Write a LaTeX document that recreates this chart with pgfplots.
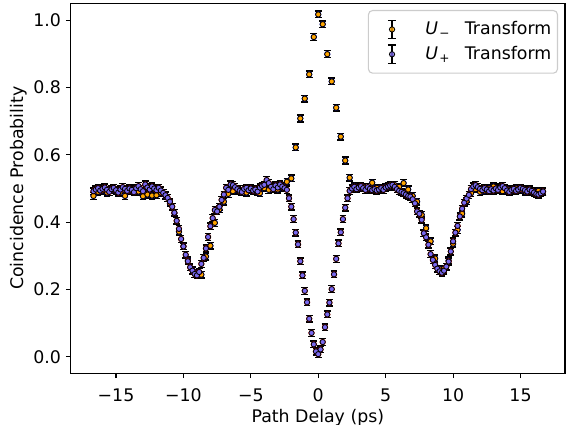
\documentclass[border=0pt]{standalone}
\usepackage{pgfplots}
\usepackage{pgfplotstable}
\pgfplotsset{compat=1.18}
\usepackage{fontspec}
\setmainfont{DejaVu Sans}
\setsansfont{DejaVu Sans}
\definecolor{uminus}{RGB}{255,165,0}
\definecolor{uplus}{RGB}{123,104,238}
\definecolor{legframe}{RGB}{204,204,204}

% U- transform (orange)
\pgfplotstableread{
x y
-16.67 0.478
-16.33 0.490
-16.00 0.494
-15.67 0.488
-15.33 0.496
-15.00 0.492
-14.67 0.490
-14.33 0.478
-14.00 0.494
-13.67 0.497
-13.33 0.491
-13.00 0.477
-12.67 0.482
-12.33 0.479
-12.00 0.480
-11.67 0.487
-11.33 0.478
-11.00 0.456
-10.67 0.427
-10.33 0.372
-10.00 0.328
-9.67 0.287
-9.33 0.258
-9.00 0.248
-8.67 0.244
-8.33 0.298
-8.00 0.330
-7.67 0.398
-7.33 0.438
-7.00 0.461
-6.67 0.484
-6.33 0.492
-6.00 0.497
-5.67 0.490
-5.33 0.488
-5.00 0.495
-4.67 0.493
-4.33 0.486
-4.00 0.501
-3.67 0.496
-3.33 0.499
-3.00 0.497
-2.67 0.505
-2.33 0.520
-2.00 0.530
-1.67 0.622
-1.33 0.708
-1.00 0.767
-0.67 0.839
-0.33 0.950
0.00 1.017
0.33 0.988
0.67 0.899
1.00 0.818
1.33 0.740
1.67 0.654
2.00 0.583
2.33 0.532
2.67 0.508
3.00 0.502
3.33 0.505
3.67 0.498
4.00 0.517
4.33 0.502
4.67 0.499
5.00 0.504
5.33 0.506
5.67 0.510
6.00 0.505
6.33 0.516
6.67 0.497
7.00 0.478
7.33 0.461
7.67 0.422
8.00 0.382
8.33 0.343
8.67 0.292
9.00 0.260
9.33 0.262
9.67 0.286
10.00 0.336
10.33 0.377
10.67 0.425
11.00 0.462
11.33 0.486
11.67 0.498
12.00 0.490
12.33 0.494
12.67 0.500
13.00 0.506
13.33 0.497
13.67 0.492
14.00 0.498
14.33 0.494
14.67 0.500
15.00 0.496
15.33 0.491
15.67 0.495
16.00 0.489
16.33 0.493
16.67 0.490
}\uminusdata

% U+ transform (purple)
\pgfplotstableread{
x y
-16.67 0.492
-16.50 0.497
-16.33 0.501
-16.17 0.494
-16.00 0.499
-15.83 0.503
-15.67 0.496
-15.50 0.490
-15.33 0.498
-15.17 0.502
-15.00 0.495
-14.83 0.488
-14.67 0.497
-14.50 0.504
-14.33 0.499
-14.17 0.493
-14.00 0.500
-13.83 0.496
-13.67 0.489
-13.50 0.501
-13.33 0.507
-13.17 0.498
-13.00 0.492
-12.83 0.512
-12.67 0.503
-12.50 0.497
-12.33 0.506
-12.17 0.500
-12.00 0.495
-11.83 0.502
-11.67 0.494
-11.50 0.487
-11.33 0.480
-11.17 0.472
-11.00 0.461
-10.83 0.446
-10.67 0.428
-10.50 0.404
-10.33 0.380
-10.17 0.350
-10.00 0.328
-9.83 0.303
-9.67 0.284
-9.50 0.266
-9.33 0.256
-9.17 0.246
-9.00 0.242
-8.83 0.252
-8.67 0.276
-8.50 0.294
-8.33 0.322
-8.17 0.356
-8.00 0.388
-7.83 0.412
-7.67 0.436
-7.50 0.432
-7.33 0.446
-7.17 0.466
-7.00 0.482
-6.83 0.502
-6.67 0.496
-6.50 0.512
-6.33 0.510
-6.17 0.504
-6.00 0.498
-5.83 0.493
-5.67 0.490
-5.50 0.499
-5.33 0.502
-5.17 0.495
-5.00 0.500
-4.83 0.494
-4.67 0.497
-4.50 0.491
-4.33 0.503
-4.17 0.508
-4.00 0.511
-3.83 0.525
-3.67 0.516
-3.50 0.505
-3.33 0.498
-3.17 0.509
-3.00 0.503
-2.83 0.512
-2.67 0.506
-2.50 0.501
-2.33 0.496
-2.17 0.471
-2.00 0.446
-1.83 0.409
-1.67 0.369
-1.50 0.334
-1.33 0.284
-1.17 0.242
-1.00 0.196
-0.83 0.162
-0.67 0.113
-0.50 0.071
-0.33 0.037
-0.17 0.016
0.00 0.008
0.17 0.022
0.33 0.044
0.50 0.088
0.67 0.126
0.83 0.161
1.00 0.201
1.17 0.245
1.33 0.291
1.50 0.337
1.67 0.370
1.83 0.409
2.00 0.443
2.17 0.471
2.33 0.493
2.50 0.500
2.67 0.505
2.83 0.498
3.00 0.503
3.17 0.507
3.33 0.501
3.50 0.496
3.67 0.504
3.83 0.499
4.00 0.495
4.17 0.498
4.33 0.494
4.50 0.497
4.67 0.501
4.83 0.496
5.00 0.503
5.17 0.506
5.33 0.509
5.50 0.511
5.67 0.505
5.83 0.498
6.00 0.493
6.17 0.490
6.33 0.486
6.50 0.482
6.67 0.478
6.83 0.476
7.00 0.468
7.17 0.456
7.33 0.432
7.50 0.425
7.67 0.407
7.83 0.367
8.00 0.355
8.17 0.333
8.33 0.305
8.50 0.288
8.67 0.273
8.83 0.262
9.00 0.254
9.17 0.250
9.33 0.256
9.50 0.268
9.67 0.283
9.83 0.313
10.00 0.343
10.17 0.369
10.33 0.389
10.50 0.417
10.67 0.440
10.83 0.458
11.00 0.470
11.17 0.481
11.33 0.498
11.50 0.506
11.67 0.510
11.83 0.504
12.00 0.499
12.17 0.495
12.33 0.501
12.50 0.497
12.67 0.492
12.83 0.498
13.00 0.494
13.17 0.500
13.33 0.496
13.50 0.503
13.67 0.507
13.83 0.501
14.00 0.494
14.17 0.490
14.33 0.496
14.50 0.499
14.67 0.493
14.83 0.497
15.00 0.502
15.17 0.499
15.33 0.495
15.50 0.491
15.67 0.497
15.83 0.493
16.00 0.488
16.17 0.484
16.33 0.482
16.50 0.486
16.67 0.491
}\uplusdata

\pgfplotsset{
  ebleg/.style={legend image code/.code={
    \path[draw=none, fill=none] (-3bp,0) -- (28bp,0);
    \draw[black, line width=1pt] (11bp,-6.6bp) -- (11bp,6.6bp);
    \draw[black, line width=1pt] (11bp-3bp,-6.6bp) -- (11bp+3bp,-6.6bp);
    \draw[black, line width=1pt] (11bp-3bp,6.6bp) -- (11bp+3bp,6.6bp);
    \draw[black, line width=0.6pt, fill=#1] (11bp,0) circle (1.9bp);
  }},
  % error bars only, drawn beneath the markers
  ebonly/.style={
    only marks, mark=none, forget plot,
    error bars/y dir=both, error bars/y fixed=0.01,
    error bars/error bar style={black, line width=1pt},
    error bars/error mark options={rotate=90, black, mark size=2.4bp, line width=1pt},
  },
  mkonly/.style={
    only marks, mark=*, mark size=1.9bp,
    mark options={fill=#1, draw=black, line width=0.6pt},
  },
}

\begin{document}
\begin{tikzpicture}
\begin{axis}[
  name=ax,
  scale only axis,
  width=355.9bp, height=266.4bp,
  xmin=-18.36, xmax=18.3, ymin=-0.049, ymax=1.05,
  font=\fontsize{12.5bp}{15bp}\selectfont,
  xtick={-15,-10,-5,0,5,10,15},
  xticklabels={−15,−10,−5,0,5,10,15},
  ytick={0,0.2,0.4,0.6,0.8,1.0},
  yticklabels={0.0,0.2,0.4,0.6,0.8,1.0},
  tick align=outside, xtick pos=left, ytick pos=left,
  major tick length=3.5bp,
  tick style={black, line width=0.8pt},
  axis line style={black, line width=0.8pt},
  xticklabel style={anchor=base, yshift=-16.5bp},
  xlabel={Path Delay (ps)},
  ylabel={Coincidence Probability},
  xlabel style={at={(axis description cs:0.5,0)}, anchor=base, yshift=-35.5bp},
  ylabel style={at={(axis description cs:-0.105,0.5)}, anchor=center},
  legend style={at={(1,1)}, anchor=north east, xshift=-5bp, yshift=-4.8bp,
    draw=legframe, line width=0.8pt, rounded corners=3pt, fill=white,
    fill opacity=0.8, draw opacity=1, text opacity=1,
    font=\fontsize{12.5bp}{15bp}\selectfont,
    inner xsep=3bp, inner ysep=6.5bp, row sep=3.7bp, column sep=5.5bp,
    nodes={inner sep=1.5bp},
    cells={anchor=west}},
  legend cell align=left,
]
\addplot+[ebonly] table {\uminusdata};
\addplot+[ebleg=uminus, mkonly=uminus] table {\uminusdata};
\addlegendentry{\textit{U}\kern1bp\textsubscript{−}\hspace{6.5bp} Transform}
\addplot+[ebonly] table {\uplusdata};
\addplot+[ebleg=uplus, mkonly=uplus] table {\uplusdata};
\addlegendentry{\textit{U}\kern1bp\textsubscript{+}\hspace{6.5bp} Transform}
\end{axis}
\pgfresetboundingbox
\path[use as bounding box] ([shift={(-50.9bp,-37.2bp)}]ax.south west) rectangle ([shift={(0.72bp,2.4bp)}]ax.north east);
\end{tikzpicture}
\end{document}
